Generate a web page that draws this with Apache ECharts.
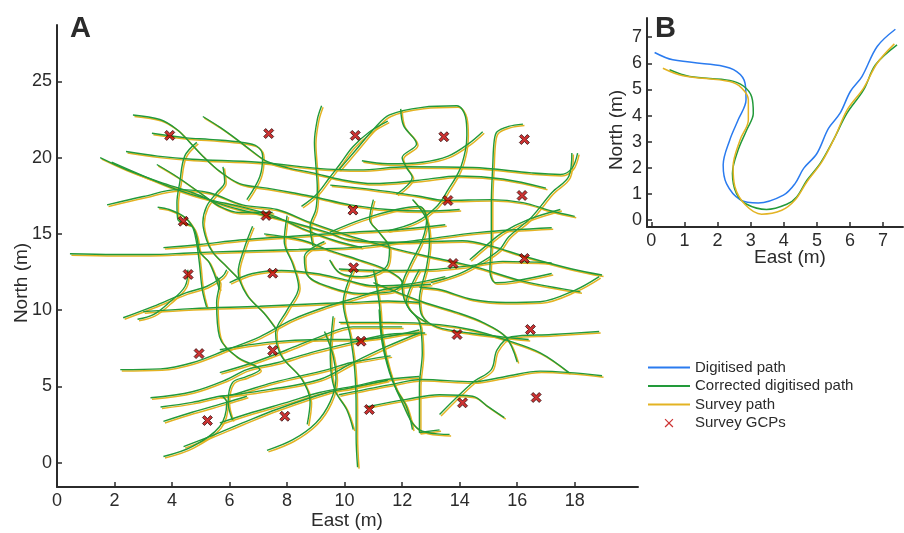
<!DOCTYPE html>
<html>
<head>
<meta charset="utf-8">
<script src="https://cdn.jsdelivr.net/npm/echarts@6/dist/echarts.min.js"></script>
<style>
  html, body { margin: 0; background: #fff; }
  #chart { width: 904px; height: 533px; }
</style>
</head>
<body>
<div id="chart"></div>
<script>
// panel A: survey paths (East, North in m)
var pathsA = [
  [[0.45,13.7],[2,13.65],[3.2,13.65],[4.6,13.75],[6,13.85],[8.4,13.98],[10.2,14.1],[11.5,14.35],[12.6,14.6],[14.7,15.1],[17.2,15.4]],
  [[1.5,20.0],[2.43,19.2],[3.58,18.4],[4.72,17.7],[5.55,17.05],[6.35,16.6],[7.05,16.3],[8.2,15.75],[9.4,15.1],[10.2,14.6],[12,14.45],[14.1,14.55],[15.1,14.2],[16.3,13.5],[17.9,12.7],[18.95,12.3]],
  [[1.9,19.7],[3,18.8],[4.17,17.9],[5.3,17.25],[6.35,16.8],[7.5,16.2],[8.6,15.3],[9.6,14.6],[10.6,14.1]],
  [[2.4,20.4],[3.5,20.1],[4.7,19.9],[7,19.7],[9.4,19.25],[10.5,19.2],[12.15,19.4],[14.45,19.35],[16.5,19.0],[17.5,18.9],[17.9,19.3],[18.1,20.3]],
  [[1.74,16.9],[3,17.45],[4.2,17.9],[5.3,17.7],[6.45,16.9],[7.65,16.6],[8.8,15.75],[10.2,14.85],[11.8,14.0],[13.2,13.4],[14.6,12.8],[16.2,11.9],[18.2,11.2]],
  [[2.64,22.8],[3.58,22.5],[4.17,21.85],[4.62,21],[5.07,20.1],[5.66,19.1],[6.35,18.3],[7.3,18.0],[8.2,17.7],[8.9,17.45],[10.2,16.9],[11.5,16.6],[12.8,16.5],[14,16.6]],
  [[5.07,22.7],[5.66,22],[6.25,21.2],[6.8,20.4],[7.3,19.75],[8,19.35],[8.9,19.0],[9.9,18.55],[11,18.3],[12.5,18.5],[14,18.8],[15.5,18.6],[17,18.0]],
  [[9.2,23.4],[9.05,22.5],[8.95,21],[9.0,19.5],[9.05,18],[9.0,16.6],[8.8,15.5],[8.9,14.2]],
  [[9.8,19.2],[10.3,20.3],[11,21.85],[11.56,22.8],[12.7,23.3],[13.9,23.4],[14.2,22.7],[14.25,21.5],[14.2,20.5],[14,19.2],[13.6,17.9],[13.2,16.8],[12.5,15.8],[11.5,15.2]],
  [[11.95,23.2],[12.05,22.1],[12.5,20.9],[12.0,20.0],[12.15,19.35],[12.35,18.7],[11.8,17.6]],
  [[11.5,22.4],[10.87,21.7],[10.28,20.7],[9.83,19.55],[9.48,18.7],[9.03,17.6],[8.5,16.8]],
  [[16.2,22.2],[15.7,22.05],[15.3,21.7],[15.2,21.1],[15.15,19.5],[15.1,17],[15.1,14.5],[15.05,12.6],[15.25,11.8],[15.9,11.9],[17.2,12.4]],
  [[17.9,20.3],[17.8,18.8],[17.2,17.7],[16.5,16.1],[15.7,14.8],[15.4,14],[14.8,13.2],[14,12.4],[13,11.8]],
  [[9.5,18.2],[11,17.9],[12.5,17.5],[13.5,17.2],[15.1,17.25],[16.2,17.05],[17.2,16.5],[18,16.15]],
  [[14.8,21.7],[14.3,20.9],[13.6,20.1],[12.7,19.7],[11.5,19.6],[10.6,19.8]],
  [[12.6,11.5],[13.3,11.35],[14.45,10.7],[15.6,10.5],[16.8,10.55],[18.0,11.3],[18.85,12.2]],
  [[9.8,12.7],[11.5,12.6],[13,12.65],[14.3,12.9],[15.5,13.2],[17.2,13.1]],
  [[14.35,13.3],[14.9,14.2],[15.5,15.1],[16.4,15.95],[17.5,16.6]],
  [[9.48,15.1],[10.6,15.95],[11.8,16.6],[12.6,16.8],[12.85,15.95],[12.7,14.6],[12.25,12.85],[12.0,11.55],[12.25,10.05],[12.85,9.2]],
  [[11,17.25],[10.87,15.95],[11.2,15.1],[11.56,14],[11.45,12.85],[10.6,12.2],[9.83,12.45],[9.48,13.3]],
  [[12.36,17.25],[12.85,15.95],[12.95,14.45],[12.85,12.85],[12.6,10.7],[12.7,9.6],[13.2,8.9],[14.35,8.5],[16.4,8.07]],
  [[9.8,9.2],[11.55,9.2],[13.3,9.05],[14.45,8.7],[15.6,8.05],[16.8,7.2],[17.8,5.9]],
  [[11.0,11.8],[12.7,10.55],[13.9,9.85],[14.8,9.2],[15.6,8.25],[16,6.6]],
  [[18.85,8.6],[17.2,8.4],[15.8,8.25],[15.3,7.4],[15.1,6.1],[14.45,5.25],[13.3,3.15]],
  [[9.8,4.45],[11.55,5.1],[12.7,5.45],[14.45,5.3],[15.6,5.65],[16.8,6.0],[18.95,5.7]],
  [[10.75,3.65],[12.15,4.15],[13.3,4.45],[14.45,4.35],[15,3.65],[15.55,2.95]],
  [[12.6,12.65],[12.15,10.5],[12.6,9.2],[12.7,7.2],[12.6,5.0],[12.6,1.97],[13.3,2.15]],
  [[11,12.65],[11.2,10.5],[11.3,8.25],[11.55,6.1],[11.9,4.35],[12.6,2.15],[13.65,1.85]],
  [[10.3,12.65],[9.95,10.5],[10.2,8.25],[10.35,6.1],[10.4,3.5],[10.4,1.7],[10.45,-0.3]],
  [[9.6,9.6],[9.5,6.95],[9.65,4.8],[10.07,3.48],[10.3,2.17]],
  [[11.2,10.05],[11.3,7.9],[11.56,5.9],[11.8,4.8],[12.15,3.67],[12.36,2.17]],
  [[2.3,9.5],[3.35,10.25],[4.5,11.15],[5.2,11.55],[5.75,12.2],[5.9,12.65]],
  [[4.55,12.65],[4.45,11.55],[3.9,10.5],[3.35,9.7],[2.8,9.4]],
  [[3,9.9],[4.7,10.1],[7.05,10.25],[9.4,10.45],[10.2,10.5],[11.5,10.6],[12.6,10.5]],
  [[2.2,6.1],[3.6,6.15],[4.7,6.55],[5.9,7.4],[7.05,8.25],[8.2,9.4],[9.4,10.25],[10.2,10.7],[11.5,11.4],[13,11.7]],
  [[5.55,12.2],[5.65,11.8],[5.55,10.5],[5.65,8.25],[6.25,6.95],[6.95,6.3],[7.05,6.1],[6.6,5.65],[6.1,5.25],[5.95,3.95],[6.1,2.8]],
  [[3.25,4.25],[4.7,4.65],[5.9,5.45],[6.6,6.1],[7.65,6.55],[8.8,7.2],[10.2,7.85],[11.5,8.4],[12.8,8.5]],
  [[3.6,3.65],[4.7,3.95],[5.65,4.35],[6.1,4.45],[7.5,5.25],[9.4,6.1],[10.2,6.55],[11.6,7.0]],
  [[3.7,2.7],[4.7,3.3],[5.9,3.95],[6.6,4.35]],
  [[4.4,1.05],[5.3,1.7],[6.45,2.6],[7.65,3.5],[9.4,4.6],[10.2,4.9],[11.5,5.4]],
  [[3.7,0.4],[4.7,1.05],[5.65,2.35],[5.9,3.95],[5.75,4.35]],
  [[5.66,7.4],[7.4,7.9],[9.13,8.07],[10.52,8.07],[12.6,8.7]],
  [[5.66,5.9],[6.8,6.55],[8,7.4],[9.13,8.25],[10.28,8.9],[12.0,8.9]],
  [[5.66,4.33],[7.4,4.8],[9.13,5.45],[10.28,6.55],[11.45,7.6],[12.6,8.5]],
  [[5.66,2.6],[6.8,3.3],[8,3.95],[9.13,4.6],[10.28,5.0],[11.45,5.45],[12.6,5.65]],
  [[3.47,19.55],[4.17,18.75],[4.97,17.7],[5.66,16.8],[6.35,16.4],[7.5,16.4]],
  [[3.5,16.75],[3.9,16.6],[4.4,16.15],[4.7,15.5],[4.85,14.45],[4.95,13.1],[5.05,11.35],[5.2,10.2]],
  [[6.6,17.25],[7.05,18.75],[7.15,20.1],[6.95,20.75],[6.45,21],[5.3,21.2],[4.5,21.3],[3.3,21.6]],
  [[3.7,14.1],[4.97,14.3],[6.35,14.6],[8.2,14.85],[10.2,15.1],[12,15.3],[13.5,15.6]],
  [[4.86,21],[4.44,20.1],[4.27,18.4],[4.17,17.05],[4.2,15.95],[4.7,15.5],[4.86,14.8],[4.97,13.8],[5.3,13.1],[5.65,11.35]],
  [[5.77,19.4],[5.83,18.4],[5.55,17.7],[5.2,16.8],[5.07,15.75],[5.2,14.6],[5.41,13.8],[5.9,12.85],[6.35,12]],
  [[7.2,15.0],[8.5,14.6],[9.5,13.9],[10.5,13.3],[11.5,12.6],[12.0,11.8],[11.6,11.2],[10.5,11.1],[9.5,11.5],[8.7,12.3],[8.6,13.5],[9.3,14.5]],
  [[6.0,11.8],[6.8,12.4],[7.8,12.6],[9,12.4],[10,12.0],[11,11.6],[12.2,11.7],[13.5,12.2]],
  [[8.0,16.2],[7.9,14.5],[8.2,13],[8.4,11.5],[8.0,10],[7.6,8.5],[7.8,7],[8.5,5.5],[8.8,4],[8.7,2.5]],
  [[6.8,15.5],[6.5,14],[6.3,12.5],[6.6,11],[7.2,9.8],[7.6,8.8]],
  [[7.3,0.8],[8.2,1.5],[9,2.6],[9.5,4],[9.7,5.5],[9.6,7],[9.3,8.6]]
];

// survey ground control points
var gcpEast  = [3.92,7.36,10.37,13.45,16.25, 4.39,7.27,10.29,13.59,16.17, 4.56,7.5,10.31,13.77,16.25, 4.94,7.5,10.57,13.91,16.46, 5.23,7.92,10.86,14.1,16.66];
var gcpNorth = [21.46,21.58,21.46,21.37,21.19, 15.83,16.21,16.56,17.19,17.52, 12.34,12.42,12.78,13.06,13.39, 7.15,7.35,7.96,8.4,8.73, 2.76,3.04,3.48,3.92,4.27];

// panel B: one path, three versions
var digitisedB = [[0.1,6.41],[0.65,6.13],[2.07,5.91],[2.58,5.68],[2.83,5.24],[2.86,4.6],[2.62,3.83],[2.37,3.07],[2.17,2.11],[2.27,1.4],[2.68,0.79],[3.23,0.66],[3.99,0.96],[4.34,1.4],[4.6,1.98],[5.0,2.55],[5.35,3.51],[5.7,4.09],[6.01,4.92],[6.36,5.49],[6.82,6.64],[7.37,7.3]];
var correctedB = [[0.55,5.75],[1.16,5.49],[2.37,5.34],[2.78,5.13],[3.03,4.72],[3.08,4.09],[2.88,3.45],[2.62,2.68],[2.45,1.79],[2.57,1.02],[2.88,0.61],[3.48,0.41],[4.09,0.61],[4.39,0.89],[4.7,1.53],[5.1,2.17],[5.5,3.07],[5.91,4.09],[6.41,4.98],[6.77,5.94],[7.42,6.7]];
var surveyB    = [[0.35,5.81],[0.96,5.52],[2.37,5.3],[2.73,5.05],[2.93,4.6],[2.93,3.83],[2.68,3.07],[2.47,2.05],[2.52,1.3],[2.83,0.6],[3.33,0.23],[3.94,0.38],[4.34,0.77],[4.7,1.47],[5.15,2.23],[5.55,3.19],[5.91,4.21],[6.41,5.05],[6.82,6.0],[7.34,6.74]];

var ticksAx = [0,2,4,6,8,10,12,14,16,18];
var ticksAy = [0,5,10,15,20,25];
var ticksB  = [0,1,2,3,4,5,6,7];

var BLUE = '#2a7bef', GREEN = '#229a3a', GOLD = '#e3b323', RED = '#c00000', INK = '#2b2b2b';
var FONT = '"Liberation Sans", Arial, sans-serif';
var XMARK = 'path://M0,2 L2,0 L5,3 L8,0 L10,2 L7,5 L10,8 L8,10 L5,7 L2,10 L0,8 L3,5 Z';
var XLEG = 'path://M0,0 L0.01,0 L0,0.01 Z M16,16 L15.99,16 L16,15.99 Z M3,4 L4,3 L8,7 L12,3 L13,4 L9,8 L13,12 L12,13 L8,9 L4,13 L3,12 L7,8 Z';
var LINE = 'path://M0,0 L42,0 L42,2 L0,2 Z';

var chart = echarts.init(document.getElementById('chart'), null, {renderer: 'canvas'});

function axis(grid, min, max, ticks, show) {
  return {
    type: 'value', gridIndex: grid, min: min, max: max, show: show,
    splitLine: {show: false},
    axisLine: {show: true, onZero: false, lineStyle: {color: INK, width: 2}},
    axisTick: {show: true, inside: true, length: 5, customValues: ticks, lineStyle: {color: INK, width: 1.5}},
    axisLabel: {show: true, customValues: ticks, color: INK, fontSize: 18, fontFamily: FONT, margin: 5}
  };
}

var series = [];
pathsA.forEach(function (p) {
  series.push({name: 'Corrected digitised path', type: 'line', xAxisIndex: 0, yAxisIndex: 0,
    data: p, smooth: 0.35, symbol: 'none', silent: true, z: 2,
    lineStyle: {color: GREEN, width: 1.4}, itemStyle: {color: GREEN}});
  series.push({name: 'Survey path', type: 'line', xAxisIndex: 1, yAxisIndex: 1,
    data: p, smooth: 0.35, symbol: 'none', silent: true, z: 1,
    lineStyle: {color: GOLD, width: 1.5}, itemStyle: {color: GOLD}});
});
series.push({name: 'Survey GCPs', type: 'scatter', xAxisIndex: 0, yAxisIndex: 0,
  data: gcpEast.map(function (e, i) { return [e, gcpNorth[i]]; }),
  symbol: XMARK, symbolSize: 10, z: 5, silent: true,
  itemStyle: {color: RED, borderColor: '#200000', borderWidth: 0.9}});
series.push({name: 'Digitised path', type: 'line', xAxisIndex: 2, yAxisIndex: 2,
  data: digitisedB, smooth: 0.35, symbol: 'none', silent: true,
  lineStyle: {color: BLUE, width: 1.5}, itemStyle: {color: BLUE}});
series.push({name: 'Corrected digitised path', type: 'line', xAxisIndex: 2, yAxisIndex: 2,
  data: correctedB, smooth: 0.35, symbol: 'none', silent: true,
  lineStyle: {color: GREEN, width: 1.5}, itemStyle: {color: GREEN}});
series.push({name: 'Survey path', type: 'line', xAxisIndex: 2, yAxisIndex: 2,
  data: surveyB, smooth: 0.35, symbol: 'none', silent: true,
  lineStyle: {color: GOLD, width: 1.5}, itemStyle: {color: GOLD}});

var option = {
  backgroundColor: '#fff',
  animation: false,
  textStyle: {fontFamily: FONT},
  grid: [
    {left: 57, top: 25, width: 581, height: 462},
    {left: 58.5, top: 26.5, width: 581, height: 462},
    {left: 647, top: 18, width: 256, height: 209}
  ],
  xAxis: [
    axis(0, 0, 20.2, ticksAx, true),
    axis(1, 0, 20.2, ticksAx, false),
    axis(2, -0.13, 7.6, ticksB, true)
  ],
  yAxis: [
    axis(0, -1.6, 28.7, ticksAy, true),
    axis(1, -1.6, 28.7, ticksAy, false),
    axis(2, -0.26, 7.73, ticksB, true)
  ],
  legend: {
    orient: 'vertical', left: 648, top: 360, padding: 0, itemWidth: 42, itemHeight: 14, itemGap: 3.5,
    textStyle: {color: INK, fontSize: 15, fontFamily: FONT},
    selectedMode: false,
    data: [
      {name: 'Digitised path', icon: LINE},
      {name: 'Corrected digitised path', icon: LINE},
      {name: 'Survey path', icon: LINE},
      {name: 'Survey GCPs', icon: XLEG, itemStyle: {color: RED, borderWidth: 0}}
    ]
  },
  graphic: [
    {type: 'text', left: 70, top: 14, style: {text: 'A', font: 'bold 29px ' + FONT, fill: INK}},
    {type: 'text', left: 655, top: 14, style: {text: 'B', font: 'bold 29px ' + FONT, fill: INK}},
    {type: 'text', x: 347, y: 521, style: {text: 'East (m)', font: '19px ' + FONT, fill: INK, align: 'center', verticalAlign: 'middle'}},
    {type: 'text', x: 22, y: 283, rotation: Math.PI / 2, style: {text: 'North (m)', font: '19px ' + FONT, fill: INK, align: 'center', verticalAlign: 'middle'}},
    {type: 'text', x: 790, y: 258, style: {text: 'East (m)', font: '19px ' + FONT, fill: INK, align: 'center', verticalAlign: 'middle'}},
    {type: 'text', x: 617, y: 130, rotation: Math.PI / 2, style: {text: 'North (m)', font: '19px ' + FONT, fill: INK, align: 'center', verticalAlign: 'middle'}}
  ],
  series: series
};
chart.setOption(option);
</script>
</body>
</html>
